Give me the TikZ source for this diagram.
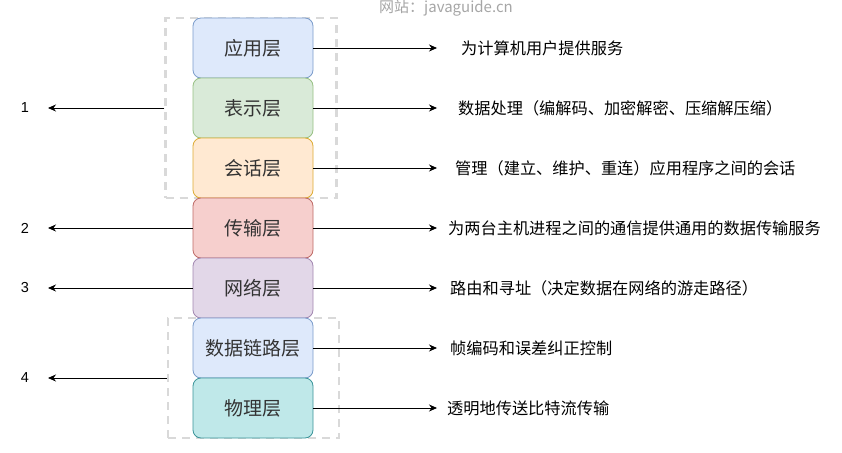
\documentclass[tikz,border=0pt]{standalone}
\usepackage{fontspec}
\setmainfont{Liberation Sans}
\newfontfamily\cjk{Noto Sans CJK SC}
\usepackage{tikz}
\usetikzlibrary{arrows.meta,positioning}

\definecolor{blueF}{HTML}{DEE9FB}
\definecolor{blueD}{HTML}{7B9CCB}
\definecolor{greenF}{HTML}{D9EAD8}
\definecolor{greenD}{HTML}{97C083}
\definecolor{orangeF}{HTML}{FFE9D2}
\definecolor{orangeD}{HTML}{DDAB33}
\definecolor{redF}{HTML}{F6CFCD}
\definecolor{redD}{HTML}{BE6A66}
\definecolor{purpleF}{HTML}{E2D7E8}
\definecolor{purpleD}{HTML}{A287B0}
\definecolor{tealF}{HTML}{BFE8E9}
\definecolor{tealD}{HTML}{3A9499}
\definecolor{dashgray}{HTML}{D9D9D9}

\begin{document}
\begin{tikzpicture}[x=1pt,y=-1pt,
  layer/.style={draw, rounded corners=8pt, line width=0.8pt, minimum width=120pt,
    minimum height=60pt, font=\cjk\fontsize{19}{20}\selectfont, text=black!80},
  group/.style={draw=dashgray, dash pattern=on 8pt off 6pt, line width=2.5pt},
  desc/.style={anchor=west, inner sep=0pt, font=\cjk\fontsize{16.2}{18}\selectfont},
  num/.style={font=\fontsize{14.5}{15}\selectfont},
  arr/.style={-{Stealth[length=8pt,width=7pt]}, line width=0.8pt}]
\useasboundingbox (0,0) rectangle (842,452);

% dashed groups
\node[group, minimum width=171pt, minimum height=180pt] (g1) at (251,108) {};
\node[group, minimum width=171pt, minimum height=120pt] (g2) at (253.5,378) {};

% layers
\foreach \i/\t/\f/\d/\y in {1/应用层/blueF/blueD/48, 2/表示层/greenF/greenD/108,
    3/会话层/orangeF/orangeD/168, 4/传输层/redF/redD/228, 5/网络层/purpleF/purpleD/288,
    6/数据链路层/blueF/blueD/348, 7/物理层/tealF/tealD/408}
  \node[layer, fill=\f, draw=\d] (L\i) at (253,\y) {\t};

% descriptions
\coordinate (tip) at (437,0);
\foreach \i/\x/\y/\t in {1/461/48/为计算机用户提供服务,
    2/458/108/数据处理（编解码、加密解密、压缩解压缩）,
    3/455/168/管理（建立、维护、重连）应用程序之间的会话,
    4/448/228/为两台主机进程之间的通信提供通用的数据传输服务,
    5/450/288/路由和寻址（决定数据在网络的游走路径）,
    6/450/348/帧编码和误差纠正控制,
    7/447/408/透明地传送比特流传输} {
  \node[desc] (D\i) at (\x,\y) {\t};
  \draw[arr] (L\i.east) -- (L\i.east -| tip);
}

% numbers on the left
\coordinate (lt) at (48,0);
\node[num] (n1) at (25,108) {1};
\node[num] (n2) at (25,228) {2};
\node[num] (n3) at (25,288) {3};
\node[num] (n4) at (25,378) {4};
\draw[arr] (g1.west) -- (g1.west -| lt);
\draw[arr] (L4.west) -- (L4.west -| lt);
\draw[arr] (L5.west) -- (L5.west -| lt);
\draw[arr] (g2.west) -- (g2.west -| lt);

\node[font=\cjk\fontsize{15}{15}\selectfont, text=black!35] (site) at (446,8) {网站：javaguide.cn};
\end{tikzpicture}
\end{document}
